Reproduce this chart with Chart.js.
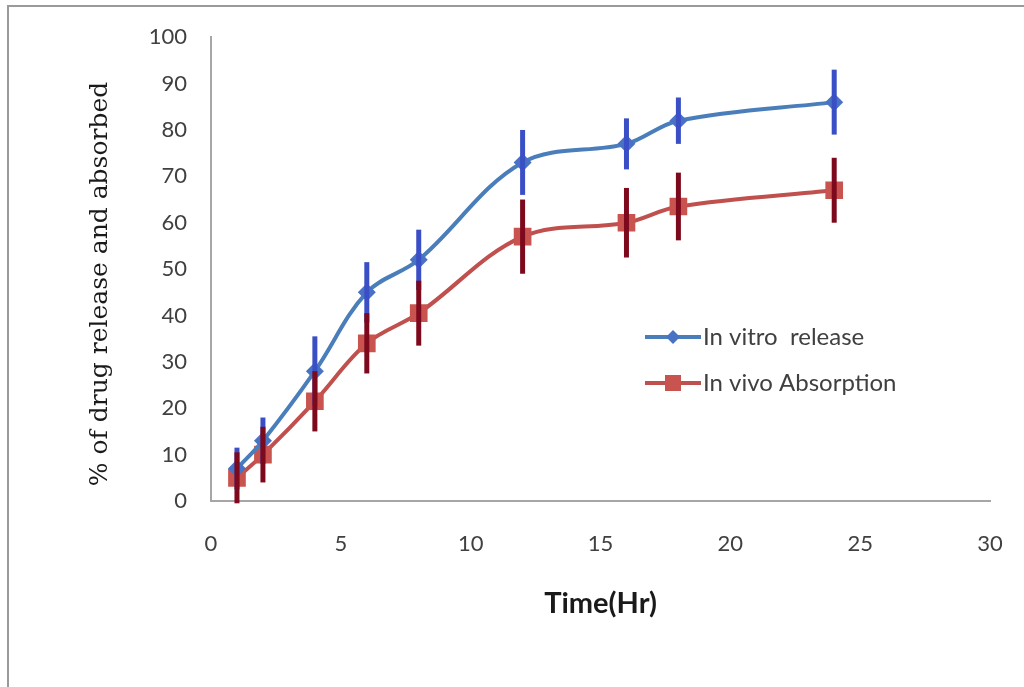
<!DOCTYPE html>
<html>
<head>
<meta charset="utf-8">
<script src="https://cdn.jsdelivr.net/npm/chart.js@4.4.1/dist/chart.umd.min.js"></script>
<style>
  html, body { margin: 0; padding: 0; background: #fff; }
  #wrap { position: relative; width: 1024px; height: 687px; overflow: hidden; }
  #frame { position: absolute; left: 7px; top: 5px; width: 1100px; height: 800px; border: 2px solid #9a9a9a; }
  canvas { position: absolute; left: 0; top: 0; }
</style>
</head>
<body>
<div id="wrap">
  <div id="frame"></div>
  <canvas id="releaseChart" width="1024" height="687"></canvas>
</div>
<script>
// --- DADES ---
const timeHr = [1, 2, 4, 6, 8, 12, 16, 18, 24];
const vitroRelease = [7, 13, 28, 45, 52, 73, 77, 82, 86];
const vitroError = [4.5, 5, 7.5, 6.5, 6.5, 7, 5.5, 5, 7];
const vivoAbsorption = [5, 10, 21.5, 34, 40.5, 57, 60, 63.5, 67];
const vivoError = [5.5, 6, 6.5, 6.5, 7, 8, 7.5, 7.3, 7];
const xTicks = [0, 5, 10, 15, 20, 25, 30];
const yTicks = [0, 10, 20, 30, 40, 50, 60, 70, 80, 90, 100];
const yTitle = "% of drug release and absorbed";

const toPoints = (ys) => timeHr.map((x, i) => ({ x: x, y: ys[i] }));

// barres d'error verticals, sense tapes
const errorBarsPlugin = {
  id: "errorBars",
  afterDatasetsDraw(chart) {
    const { ctx, scales } = chart;
    chart.data.datasets.forEach((ds) => {
      ctx.save();
      ctx.strokeStyle = ds.errorColor;
      ctx.lineWidth = 5;
      ds.data.forEach((p, i) => {
        const x = scales.x.getPixelForValue(p.x);
        ctx.beginPath();
        ctx.moveTo(x, scales.y.getPixelForValue(p.y + ds.errors[i]));
        ctx.lineTo(x, scales.y.getPixelForValue(p.y - ds.errors[i]));
        ctx.stroke();
      });
      ctx.restore();
    });
  },
};

// títol de l'eix Y i llegenda dins l'àrea del gràfic
const extrasPlugin = {
  id: "extras",
  afterDraw(chart) {
    const { ctx } = chart;
    ctx.save();
    ctx.translate(100, 284);
    ctx.rotate(-Math.PI / 2);
    ctx.fillStyle = "#1a1a1a";
    ctx.font = "25px 'DejaVu Serif'";
    ctx.textAlign = "center";
    ctx.textBaseline = "middle";
    ctx.fillText(yTitle, 0, 0);
    ctx.restore();

    const left = 645;
    const rows = [337, 383];
    chart.data.datasets.forEach((ds, i) => {
      const y = rows[i];
      ctx.save();
      ctx.strokeStyle = ds.borderColor;
      ctx.lineWidth = 4;
      ctx.beginPath();
      ctx.moveTo(left, y);
      ctx.lineTo(left + 56, y);
      ctx.stroke();
      ctx.fillStyle = ds.backgroundColor;
      const cx = left + 28;
      if (ds.pointStyle === "rectRot") {
        ctx.beginPath();
        ctx.moveTo(cx, y - 7);
        ctx.lineTo(cx + 7, y);
        ctx.lineTo(cx, y + 7);
        ctx.lineTo(cx - 7, y);
        ctx.closePath();
        ctx.fill();
      } else {
        ctx.fillRect(cx - 8, y - 8, 16, 16);
      }
      ctx.fillStyle = "#404040";
      ctx.font = "24px Lato";
      ctx.textBaseline = "middle";
      ctx.fillText(ds.label, left + 58, y);
      ctx.restore();
    });
  },
};

const ctx = document.getElementById("releaseChart").getContext("2d");

new Chart(ctx, {
  type: "line",
  data: {
    datasets: [
      {
        label: "In vitro  release",
        data: toPoints(vitroRelease),
        errors: vitroError,
        errorColor: "#3a4ec6",
        borderColor: "#4a7ebb",
        backgroundColor: "#4a72c4",
        borderWidth: 4,
        pointStyle: "rectRot",
        pointRadius: 9,
        pointBorderWidth: 0,
        tension: 0.35,
        order: 1,
      },
      {
        label: "In vivo Absorption",
        data: toPoints(vivoAbsorption),
        errors: vivoError,
        errorColor: "#7d0a1c",
        borderColor: "#c0504d",
        backgroundColor: "#c9544f",
        borderWidth: 4,
        pointStyle: "rect",
        pointRadius: 12.5,
        pointBorderWidth: 0,
        tension: 0.35,
        order: 2,
      },
    ],
  },
  options: {
    responsive: false,
    animation: false,
    layout: { padding: { left: 0, top: 36, right: 34, bottom: 0 } },
    plugins: {
      legend: { display: false },
      tooltip: { enabled: false },
    },
    scales: {
      x: {
        type: "linear",
        min: 0,
        max: 30,
        afterBuildTicks: (axis) => { axis.ticks = xTicks.map((v) => ({ value: v })); },
        afterFit: (axis) => { axis.height = 186; axis.paddingLeft = 0; axis.paddingRight = 0; },
        grid: { display: false, drawTicks: false },
        border: { color: "#a6a6a6", width: 2 },
        ticks: { padding: 30, color: "#404040", font: { family: "Lato", size: 22 } },
        title: {
          display: true,
          text: "Time(Hr)",
          color: "#1a1a1a",
          font: { family: "Lato", size: 29, weight: "bold" },
          padding: { bottom: 66 },
        },
      },
      y: {
        min: 0,
        max: 100,
        afterBuildTicks: (axis) => { axis.ticks = yTicks.map((v) => ({ value: v })); },
        afterFit: (axis) => { axis.width = 211; },
        grid: { display: false, drawTicks: false },
        border: { color: "#a6a6a6", width: 2 },
        ticks: { padding: 24, color: "#404040", font: { family: "Lato", size: 22 } },
        title: { display: false },
      },
    },
  },
  plugins: [errorBarsPlugin, extrasPlugin],
});
</script>
</body>
</html>
